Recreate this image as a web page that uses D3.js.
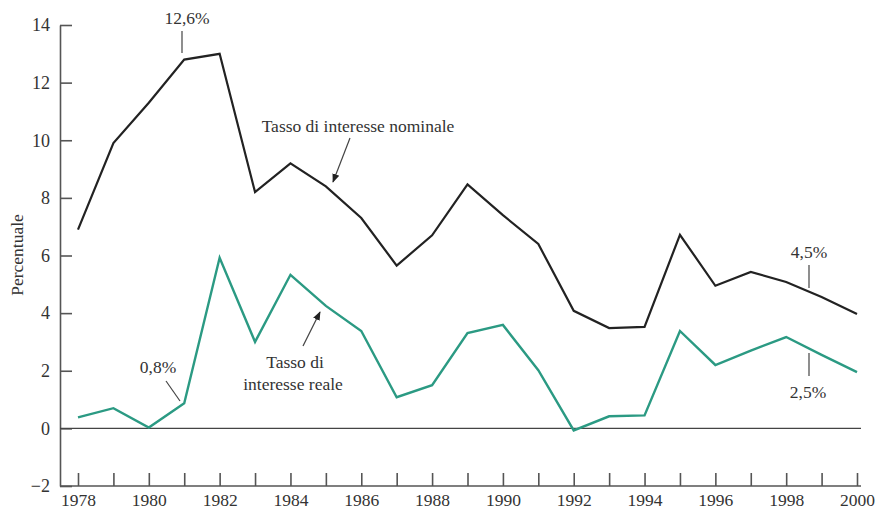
<!DOCTYPE html>
<html>
  <head>
    <meta charset="utf-8">
    <title>Tasso di interesse nominale e reale</title>
    <script src="https://d3js.org/d3.v7.min.js"></script>
    <style>
      body { margin: 0; background: #fff; }
      text { font-family: "Liberation Serif", "DejaVu Serif", serif; fill: #333; }
    </style>
  </head>
  <body>
    <div id="chart"></div>
  </body>
  <script>
  // dati
  var years    = d3.range(1978, 2001);
  var nominale = [6.9, 9.9, 11.3, 12.8, 13.0, 8.2, 9.2, 8.4, 7.3, 5.65, 6.7, 8.47,
                  7.4, 6.4, 4.08, 3.48, 3.52, 6.72, 4.95, 5.43, 5.08, 4.56, 3.97];
  var reale    = [0.38, 0.7, 0.03, 0.87, 5.92, 3.0, 5.33, 4.25, 3.38, 1.08, 1.5, 3.31,
                  3.59, 2.02, -0.07, 0.42, 0.45, 3.38, 2.2, 2.7, 3.17, 2.55, 1.95];
  var yTicks   = [-2, 0, 2, 4, 6, 8, 10, 12, 14];

  var width = 881, height = 513;
  var svg = d3.select('#chart')
      .append("svg")
      .attr("width", width)
      .attr("height", height);

  var x = d3.scaleLinear().domain([1978, 2000]).range([78, 857]);
  var y = d3.scaleLinear().domain([-2, 14]).range([486, 25]);

  var axisColor = "#555";

  // asse y
  var gy = svg.append("g")
      .attr("transform", "translate(60,0)")
      .call(d3.axisLeft(y).tickValues(yTicks).tickSizeInner(-12).tickSizeOuter(0).tickPadding(10)
            .tickFormat(d => d < 0 ? "\u2212" + Math.abs(d) : d));
  gy.selectAll("path, line").attr("stroke", axisColor).attr("stroke-width", 1.6);
  gy.selectAll("text").attr("font-size", "18px").attr("fill", "#333")
      .style("font-family", "Liberation Serif, serif");

  // asse x
  var gx = svg.append("g")
      .attr("transform", "translate(0," + y(-2) + ")")
      .call(d3.axisBottom(x).tickValues(years).tickSizeInner(-13).tickSizeOuter(0).tickPadding(8)
            .tickFormat(d => d % 2 === 0 ? d : ""));
  gx.select(".domain").remove();
  gx.selectAll("line").attr("stroke", axisColor).attr("stroke-width", 1.6);
  gx.selectAll("text").attr("font-size", "17.5px").attr("fill", "#333")
      .style("font-family", "Liberation Serif, serif");
  svg.append("line")
      .attr("x1", 60).attr("x2", 861)
      .attr("y1", y(-2)).attr("y2", y(-2))
      .attr("stroke", axisColor).attr("stroke-width", 1.6);

  // linea dello zero
  svg.append("line")
      .attr("x1", 60).attr("x2", 861)
      .attr("y1", y(0)).attr("y2", y(0))
      .attr("stroke", "#444").attr("stroke-width", 1.3);

  // etichetta asse y
  svg.append("text")
      .attr("transform", "translate(23," + 255 + ") rotate(-90)")
      .attr("text-anchor", "middle")
      .attr("font-size", "17.5px")
      .text("Percentuale");

  var line = d3.line()
      .x((d, i) => x(years[i]))
      .y(d => y(d));

  svg.append("path")
      .datum(nominale)
      .attr("d", line)
      .attr("fill", "none")
      .attr("stroke", "#222")
      .attr("stroke-width", 2.2)
      .attr("stroke-linejoin", "miter");

  svg.append("path")
      .datum(reale)
      .attr("d", line)
      .attr("fill", "none")
      .attr("stroke", "#2b9a83")
      .attr("stroke-width", 2.4)
      .attr("stroke-linejoin", "miter");

  // freccia
  svg.append("defs").append("marker")
      .attr("id", "arrow")
      .attr("viewBox", "0 0 10 10")
      .attr("refX", 9).attr("refY", 5)
      .attr("markerWidth", 9).attr("markerHeight", 9)
      .attr("markerUnits", "userSpaceOnUse")
      .attr("orient", "auto")
      .append("path")
      .attr("d", "M0,1 L10,5 L0,9 Z")
      .attr("fill", "#222");

  function leader(x1, y1, x2, y2, arrow) {
      var l = svg.append("line")
          .attr("x1", x1).attr("y1", y1)
          .attr("x2", x2).attr("y2", y2)
          .attr("stroke", "#444").attr("stroke-width", 1.2);
      if (arrow) l.attr("marker-end", "url(#arrow)");
  }

  function label(tx, ty, s, anchor) {
      svg.append("text")
          .attr("x", tx).attr("y", ty)
          .attr("text-anchor", anchor || "middle")
          .attr("font-size", "17.5px")
          .text(s);
  }

  // annotazioni
  label(187, 24, "12,6%");
  leader(182, 31, 182, 53, false);

  label(358, 132, "Tasso di interesse nominale");
  leader(350, 138, 333, 182, true);

  label(295, 368, "Tasso di");
  label(293, 390, "interesse reale");
  leader(303, 346, 320, 312, true);

  label(158, 373, "0,8%");
  leader(166, 381, 180, 401, false);

  label(809, 258, "4,5%");
  leader(809, 265, 809, 288, false);

  label(808, 398, "2,5%");
  leader(809, 353, 809, 376, false);
  </script>
</html>
